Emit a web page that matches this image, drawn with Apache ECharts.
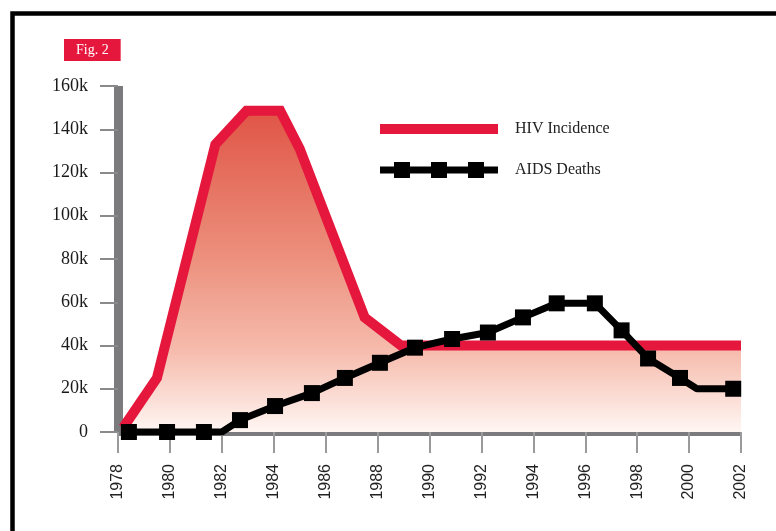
<!DOCTYPE html>
<html>
<head>
<meta charset="utf-8">
<script src="https://cdn.jsdelivr.net/npm/echarts/dist/echarts.min.js"></script>
<style>html,body{margin:0;padding:0;background:#fff;}#chart{width:776px;height:531px;}</style>
</head>
<body>
<div id="chart"></div>
<script>
// Year ticks shown on the x axis
const yearTicks = [1978, 1980, 1982, 1984, 1986, 1988, 1990, 1992, 1994, 1996, 1998, 2000, 2002];
// Y tick values in thousands
const valueTicks = [0, 20, 40, 60, 80, 100, 120, 140, 160];

// HIV Incidence (thousands) — vertices of the red line
const hivYears  = [1978.2, 1979.5, 1981.75, 1982.95, 1984.25, 1985.0, 1987.5, 1988.9, 2002];
const hivValues = [2, 25, 133, 148.5, 148.5, 131, 53, 40, 40];

// AIDS Deaths (thousands) — vertices of the black line; marker flag 1 = square shown
const deathYears   = [1978.42, 1979.89, 1981.31, 1982.0, 1982.7, 1984.05, 1985.47, 1986.74, 1988.09, 1989.44, 1990.87, 1992.25, 1993.6, 1994.9, 1996.37, 1997.4, 1998.42, 1999.65, 2000.3, 2001.7];
const deathValues  = [0, 0, 0, 0, 5.5, 12, 18, 25, 32, 39, 43, 46, 53, 59.5, 59.5, 47, 34, 25, 20, 20];
const deathMarkers = [1, 1, 1, 0, 1, 1, 1, 1, 1, 1, 1, 1, 1, 1, 1, 1, 1, 1, 0, 1];

const seriesNames = ['HIV Incidence', 'AIDS Deaths'];
const figLabel = 'Fig. 2';

const hivData = hivYears.map((y, i) => [y, hivValues[i]]);
const deathData = deathYears.map((y, i) => deathMarkers[i]
  ? { value: [y, deathValues[i]] }
  : { value: [y, deathValues[i]], symbol: 'none' });

const RED = '#e6173d';
const GRAY = '#7b7b7e';

const chart = echarts.init(document.getElementById('chart'), null, { renderer: 'canvas' });
chart.setOption({
  backgroundColor: '#fff',
  animation: false,
  title: {
    text: figLabel,
    left: 64, top: 39,
    backgroundColor: RED,
    padding: [4, 12, 4, 12],
    textStyle: { color: '#fff', fontFamily: 'Liberation Serif', fontSize: 14, fontWeight: 'normal' }
  },
  graphic: [{
    type: 'rect', left: 10, top: 11, silent: true,
    shape: { x: 0, y: 0, width: 800, height: 600 },
    style: { fill: 'none', stroke: '#000', lineWidth: 4.5 }
  }],
  legend: {
    orient: 'vertical', left: 375, top: 116, itemGap: 25,
    itemWidth: 118, itemHeight: 18,
    itemStyle: { borderWidth: 0 },
    textStyle: { fontFamily: 'Liberation Serif', fontSize: 16, color: '#222', padding: [0, 0, 0, 12] },
    data: [
      { name: seriesNames[0], icon: 'path://M0,4H118V14H0Z' },
      { name: seriesNames[1], icon: 'path://M0,5.5H118V12.5H0Z M14,1H30V17H14Z M51,1H67V17H51Z M88,1H104V17H88Z' }
    ]
  },
  grid: { left: 118, right: 35, top: 86, bottom: 99, containLabel: false },
  xAxis: {
    type: 'value', min: yearTicks[0], max: yearTicks[yearTicks.length - 1], interval: 2,
    axisLine: { show: true, lineStyle: { color: GRAY, width: 8, cap: 'butt' } },
    axisTick: { show: true, length: 21, lineStyle: { color: '#9a9a9c', width: 2 } },
    axisLabel: {
      rotate: 90, margin: 32, color: '#222', fontFamily: 'Liberation Sans', fontSize: 16,
      formatter: v => String(v)
    },
    splitLine: { show: false }
  },
  yAxis: {
    type: 'value', min: valueTicks[0], max: valueTicks[valueTicks.length - 1], interval: 20,
    axisLine: { show: true, lineStyle: { color: GRAY, width: 9, cap: 'butt' } },
    axisTick: { show: true, length: 18, lineStyle: { color: '#8a8a8c', width: 2 } },
    axisLabel: {
      margin: 30, color: '#1a1a1a', fontFamily: 'Liberation Serif', fontSize: 18,
      formatter: v => v === 0 ? '0' : v + 'k'
    },
    splitLine: { show: false }
  },
  series: [
    {
      name: seriesNames[0], type: 'line', data: hivData, symbol: 'none', z: 2,
      color: RED,
      lineStyle: { color: RED, width: 10, join: 'miter' },
      areaStyle: {
        origin: 'start',
        opacity: 1,
        color: new echarts.graphic.LinearGradient(0, 0, 0, 1, [
          { offset: 0, color: '#e05546' },
          { offset: 0.45, color: '#ec8f7c' },
          { offset: 0.75, color: '#f6bcad' },
          { offset: 1, color: '#fff6f3' }
        ])
      }
    },
    {
      name: seriesNames[1], type: 'line', data: deathData, z: 3,
      color: '#000',
      symbol: 'rect', symbolSize: 16, showAllSymbol: true,
      itemStyle: { color: '#000', borderWidth: 0 },
      lineStyle: { color: '#000', width: 7 }
    }
  ]
});
</script>
</body>
</html>
